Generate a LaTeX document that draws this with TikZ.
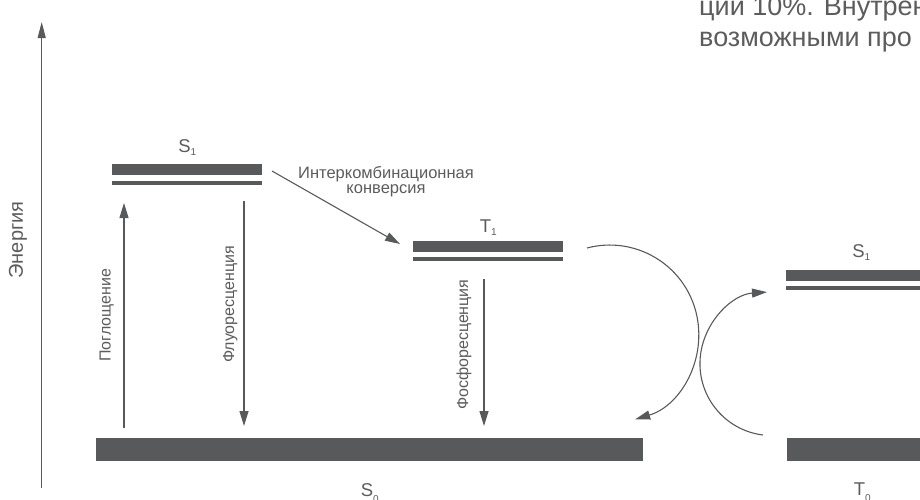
\documentclass[tikz,border=0pt]{standalone}
\usepackage{fontspec}
\setmainfont{Liberation Sans}
\usetikzlibrary{arrows.meta,positioning,calc}
\definecolor{levelgrey}{HTML}{58595B}
\definecolor{textgrey}{HTML}{5C5C5E}
% level name with a lowered index
\newcommand{\enlev}[3][3pt]{#2\raisebox{-#1}{\fontsize{10}{10}\selectfont #3}}

\begin{document}
\begin{tikzpicture}[
x=1pt, y=-1pt,
level/.style={
  fill=levelgrey,
  draw=none,
  inner sep=0pt,
  anchor=north west
  },
thickbar/.style={level, minimum height=11pt},
thinbar/.style={level, minimum height=4pt},
ground/.style={level, minimum height=23pt},
lbl/.style={
  text=textgrey,
  inner sep=0pt,
  anchor=base,
  font=\fontsize{18.5}{18.5}\selectfont
  },
proc/.style={
  text=textgrey,
  inner sep=0pt,
  rotate=90,
  anchor=base west,
  font=\fontsize{16}{16}\selectfont
  },
trans/.style={draw=levelgrey, line width=1.1pt, ->},
>={Triangle[length=15pt,width=9pt]}
]
\useasboundingbox (0,0) rectangle (920,499);

% energy axis
\coordinate (en0) at (41.7,488);
\coordinate (en1) at (41.7,22);
\draw[trans, -{Triangle[length=16pt,width=8pt]}] (en0) -- (en1);
\node[text=textgrey, rotate=90, font=\fontsize{20}{20}\selectfont] (en-t) at (18,240) {Энергия};

% levels
\node[thickbar, minimum width=150pt] (s1l) at (112,164) {};
\node[thinbar, minimum width=150pt] (s1lb) at (112,181) {};
\node[thickbar, minimum width=150pt] (t1) at (413,241) {};
\node[thinbar, minimum width=150pt] (t1b) at (413,257) {};
\node[thickbar, minimum width=150pt] (s1r) at (786,270) {};
\node[thinbar, minimum width=150pt] (s1rb) at (786,286) {};
\node[ground, minimum width=547pt] (s0) at (96,438) {};
\node[ground, minimum width=150pt] (t0) at (787,438) {};

\node[lbl] (s1l-l) at ($(s1l.north)+(0,-12)$) {\enlev{S}{1}};
\node[lbl] (t1-l) at ($(t1.north)+(0,-9)$) {\enlev{T}{1}};
\node[lbl] (s1r-l) at ($(s1r.north)+(0,-13)$) {\enlev{S}{1}};
\node[lbl] (s0-l) at ($(s0.south)+(0,35)$) {\enlev[6pt]{S}{0}};
\node[lbl] (t0-l) at ($(t0.south)+(0,34)$) {\enlev[6pt]{T}{0}};

% transitions
\coordinate (abs0) at (124,428);
\coordinate (abs1) at (124,203);
\coordinate (fl0) at (244,201);
\coordinate (fl1) at (244,426);
\coordinate (ph0) at (484,279);
\coordinate (ph1) at (484,426);
\coordinate (ic0) at (272,171);
\coordinate (ic1) at (400,244);
\draw[trans] (abs0) -- (abs1);
\draw[trans] (fl0) -- (fl1);
\draw[trans] (ph0) -- (ph1);
\draw[trans] (ic0) -- (ic1);
\node[proc] (abs-t) at (110.5,362) {Поглощение};
\node[proc] (fl-t) at (234,363) {Флуоресценция};
\node[proc] (ph-t) at (468,410) {Фосфоресценция};
\node[text=textgrey, inner sep=0pt, anchor=north, align=center,
  font=\fontsize{16.5}{15.5}\selectfont] (ic-t) at (386,166)
  {Интеркомбинационная\\конверсия};

% return arcs
\coordinate (rt0) at (587,248);
\coordinate (rt1) at (763,435);
\draw[trans] (rt0) arc[start angle=-104.8, end angle=73.4, radius=89];
\draw[trans] (rt1) arc[start angle=97, end angle=266.2, radius=71.8];

% running text above
\node[text=textgrey, inner sep=0pt, anchor=north west, align=left,
  font=\fontsize{27}{31}\selectfont] (para) at (699,-4)
  {ции 10\%. Внутрен\\возможными про};
\end{tikzpicture}
\end{document}
